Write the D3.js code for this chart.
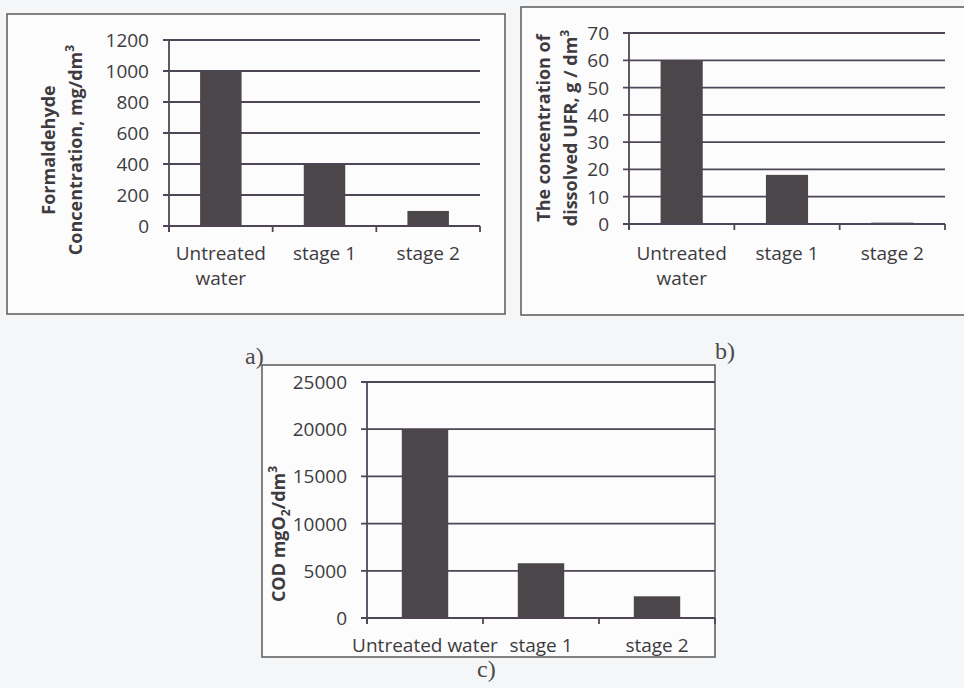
<!DOCTYPE html>
<html>
<head>
<meta charset="utf-8">
<script src="https://cdn.jsdelivr.net/npm/d3@7"></script>
<style>
  body { margin: 0; background: #f5f6f8; }
  text { font-family: "Open Sans", Lato, sans-serif; fill: #3e3b40; }
</style>
</head>
<body>
<svg id="fig" width="964" height="688"></svg>
<script>
// a) formaldehyde
let aLabels = [["Untreated", "water"], ["stage 1"], ["stage 2"]];
let aValues = [1000, 400, 97];
let aTicks = [0, 200, 400, 600, 800, 1000, 1200];

// b) dissolved UFR
let bLabels = [["Untreated", "water"], ["stage 1"], ["stage 2"]];
let bValues = [60, 18, 0.5];
let bTicks = [0, 10, 20, 30, 40, 50, 60, 70];

// c) COD
let cLabels = [["Untreated water"], ["stage 1"], ["stage 2"]];
let cValues = [20000, 5800, 2300];
let cTicks = [0, 5000, 10000, 15000, 20000, 25000];

let lineColor = "#4e4657";
let barColor = "#4a4649";

let svg = d3.select("#fig");

function drawPanel(p){
  let g = svg.append("g");

  // frame round the chart
  g.append("rect")
    .attr("x", p.box[0]).attr("y", p.box[1])
    .attr("width", p.box[2] - p.box[0]).attr("height", p.box[3] - p.box[1])
    .attr("fill", "#fcfcfc").attr("stroke", "#5a5a5a").attr("stroke-width", 1.5);

  let x = d3.scaleBand()
    .domain(d3.range(p.values.length))
    .range([p.x0, p.x1])
    .paddingInner(0.6)
    .paddingOuter(0.3);

  let y = d3.scaleLinear()
    .domain([0, p.ticks[p.ticks.length - 1]])
    .range([p.y0, p.y1]);

  // gridlines + y ticks
  g.selectAll(".grid").data(p.ticks).enter().append("line")
    .attr("x1", p.x0 - 6).attr("x2", p.x1)
    .attr("y1", d => y(d)).attr("y2", d => y(d))
    .attr("stroke", lineColor).attr("stroke-width", 1.8);

  g.selectAll(".ylab").data(p.ticks).enter().append("text")
    .attr("x", p.x0 - 20).attr("y", d => y(d))
    .attr("text-anchor", "end").attr("dominant-baseline", "central")
    .style("font-size", "19px")
    .text(d => d);

  // bars
  g.selectAll(".bar").data(p.values).enter().append("rect")
    .attr("x", (d, i) => x(i))
    .attr("width", x.bandwidth())
    .attr("y", d => y(d))
    .attr("height", d => y(0) - y(d))
    .attr("fill", barColor);

  // axis lines
  g.append("line")
    .attr("x1", p.x0).attr("x2", p.x0)
    .attr("y1", y(p.ticks[p.ticks.length - 1])).attr("y2", p.y0 + 6)
    .attr("stroke", lineColor).attr("stroke-width", 1.8);
  g.append("line")
    .attr("x1", p.x0).attr("x2", p.x1)
    .attr("y1", p.y0).attr("y2", p.y0)
    .attr("stroke", lineColor).attr("stroke-width", 1.8);

  let step = x.step();
  let bounds = d3.range(p.values.length + 1).map(i => p.x0 + i * step);
  g.selectAll(".xtick").data(bounds).enter().append("line")
    .attr("x1", d => d).attr("x2", d => d)
    .attr("y1", p.y0).attr("y2", p.y0 + 6)
    .attr("stroke", lineColor).attr("stroke-width", 1.8);

  // category labels
  p.labels.forEach(function(lines, i){
    lines.forEach(function(l, j){
      g.append("text")
        .attr("x", x(i) + x.bandwidth() / 2)
        .attr("y", p.labelY + j * 25)
        .attr("text-anchor", "middle")
        .style("font-size", "19px")
        .text(l);
    });
  });

  // y axis title (rotated, one or two lines)
  p.title.forEach(function(parts, j){
    let t = g.append("text")
      .attr("transform", "translate(" + (p.titleX[j] + 7) + "," + p.titleY + ") rotate(-90)")
      .attr("text-anchor", "middle")
      .style("font-size", "18px").style("font-weight", "bold");
    parts.forEach(function(part){
      let s = t.append("tspan").text(part[0]);
      if(part[1] == "sup") s.attr("dy", -8).style("font-size", "12px");
      if(part[1] == "sub") s.attr("dy", 5).style("font-size", "12px");
      if(part[1] == "back") s.attr("dy", -5);
    });
  });
}

drawPanel({
  box: [7, 14, 505, 314],
  x0: 169, x1: 480, y0: 226, y1: 40,
  values: aValues, ticks: aTicks, labels: aLabels, labelY: 260,
  title: [[["Formaldehyde"]], [["Concentration, mg/dm"], ["3", "sup"]]],
  titleX: [48, 75], titleY: 150
});

drawPanel({
  box: [521, 7, 975, 315],
  x0: 629, x1: 945, y0: 224, y1: 33,
  values: bValues, ticks: bTicks, labels: bLabels, labelY: 260,
  title: [[["The concentration of"]], [["dissolved UFR, g / dm"], ["3", "sup"]]],
  titleX: [543, 570], titleY: 128
});

drawPanel({
  box: [262, 365, 715, 657],
  x0: 367, x1: 715, y0: 618, y1: 382,
  values: cValues, ticks: cTicks, labels: cLabels, labelY: 652,
  title: [[["COD mgO"], ["2", "sub"], ["/dm", "back"], ["3", "sup"]]],
  titleX: [278], titleY: 534
});

// panel letters
let letters = [["a)", 245, 364], ["b)", 715, 359], ["c)", 477, 677]];
letters.forEach(function(d){
  svg.append("text").attr("x", d[1]).attr("y", d[2])
    .style("font-family", "'Liberation Serif', 'DejaVu Serif', serif")
    .style("font-size", "24px").style("fill", "#4a4a4a")
    .text(d[0]);
});
</script>
</body>
</html>
